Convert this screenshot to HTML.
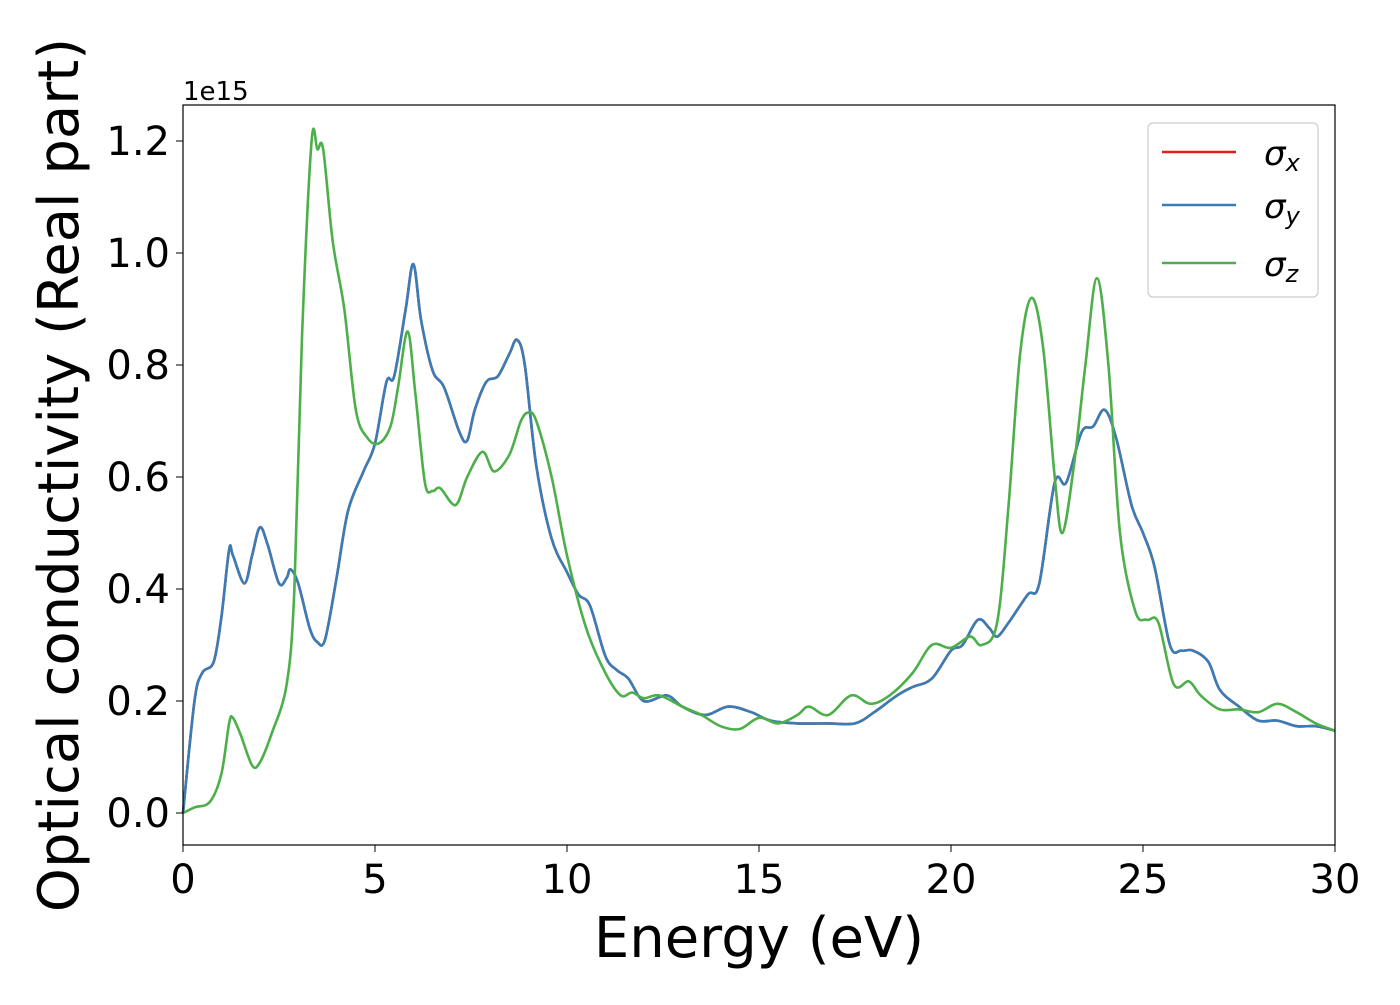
<!DOCTYPE html>
<html><head><meta charset="utf-8"><style>
html,body{margin:0;padding:0;background:#fff;}
svg text{font-family:"DejaVu Sans","Liberation Sans",sans-serif;fill:#000;}
</style></head><body>
<svg id="chart" width="1400" height="1000" xmlns="http://www.w3.org/2000/svg">
<g id="plot"></g>
<rect x="183" y="105" width="1152" height="740" fill="none" stroke="#000" stroke-width="1.2"/>
<g id="ticks"></g>
<text x="183" y="100" font-size="26">1e15</text>
<text x="759" y="957" font-size="56" text-anchor="middle">Energy (eV)</text>
<text transform="translate(78,475) rotate(-90)" font-size="56" text-anchor="middle">Optical conductivity (Real part)</text>
<g>
<rect x="1148" y="123" width="170" height="174" rx="5" fill="#fff" fill-opacity="0.8" stroke="#ccc" stroke-width="1.2"/>
<line x1="1162" y1="152" x2="1236" y2="152" stroke="#e41a1c" stroke-width="2.5"/>
<text x="1264" y="165" font-size="34" font-style="italic">σ<tspan font-size="24" dy="6">x</tspan></text>
<line x1="1162" y1="205" x2="1236" y2="205" stroke="#377eb8" stroke-width="2.5"/>
<text x="1264" y="218" font-size="34" font-style="italic">σ<tspan font-size="24" dy="6">y</tspan></text>
<line x1="1162" y1="263" x2="1236" y2="263" stroke="#4daf4a" stroke-width="2.5"/>
<text x="1264" y="276" font-size="34" font-style="italic">σ<tspan font-size="24" dy="6">z</tspan></text>
</g>
</svg>
<script>
const xyE=[0,0.3,0.5,0.8,1.0,1.2,1.3,1.6,1.8,2.0,2.2,2.5,2.7,2.8,3.0,3.3,3.5,3.7,4.0,4.3,4.7,5.0,5.3,5.5,5.8,6.0,6.2,6.5,6.8,7.2,7.4,7.6,7.9,8.2,8.5,8.7,8.9,9.2,9.6,10.0,10.3,10.6,11.0,11.3,11.6,12.0,12.6,13.0,13.6,14.2,14.8,15.3,16.0,16.8,17.5,18.0,18.6,19.0,19.5,20.0,20.3,20.7,21.0,21.2,21.5,22.0,22.3,22.7,23.0,23.4,23.7,24.0,24.3,24.7,25.0,25.3,25.7,26.0,26.3,26.7,27.0,27.5,28.0,28.5,29.0,29.5,30];
const xyV=[0,0.2,0.25,0.27,0.35,0.47,0.46,0.41,0.46,0.51,0.48,0.41,0.42,0.435,0.41,0.33,0.305,0.31,0.42,0.54,0.61,0.66,0.77,0.78,0.9,0.98,0.88,0.79,0.76,0.68,0.665,0.72,0.77,0.78,0.82,0.845,0.8,0.62,0.49,0.43,0.39,0.37,0.28,0.255,0.24,0.2,0.21,0.19,0.175,0.19,0.18,0.165,0.16,0.16,0.16,0.18,0.21,0.225,0.24,0.29,0.3,0.345,0.33,0.315,0.34,0.39,0.41,0.59,0.59,0.68,0.69,0.72,0.67,0.55,0.5,0.44,0.3,0.29,0.29,0.27,0.22,0.19,0.165,0.165,0.155,0.155,0.147];
const zE=[0,0.3,0.7,1.0,1.2,1.3,1.5,1.8,2.0,2.3,2.7,2.9,3.1,3.35,3.5,3.65,3.9,4.2,4.5,4.8,5.1,5.4,5.6,5.85,6.05,6.3,6.5,6.7,7.1,7.4,7.8,8.1,8.5,8.8,9.0,9.2,9.6,10.0,10.5,11.0,11.4,11.7,12.0,12.4,13.0,13.5,14.0,14.5,15.0,15.5,16.0,16.3,16.8,17.4,17.9,18.4,19.0,19.5,20.0,20.5,20.8,21.2,21.5,21.8,22.1,22.4,22.7,22.9,23.2,23.5,23.8,24.1,24.4,24.8,25.1,25.4,25.8,26.2,26.5,27.0,27.5,28.0,28.5,29.0,29.5,30];
const zV=[0,0.01,0.02,0.07,0.16,0.17,0.14,0.085,0.09,0.14,0.23,0.4,0.85,1.2,1.185,1.185,1.02,0.9,0.72,0.67,0.66,0.69,0.76,0.86,0.75,0.59,0.575,0.58,0.55,0.6,0.645,0.61,0.64,0.7,0.715,0.7,0.6,0.46,0.33,0.25,0.21,0.215,0.205,0.21,0.19,0.175,0.155,0.15,0.17,0.16,0.175,0.19,0.175,0.21,0.195,0.21,0.25,0.3,0.295,0.315,0.3,0.34,0.55,0.82,0.92,0.83,0.6,0.5,0.62,0.8,0.955,0.8,0.5,0.36,0.345,0.34,0.23,0.235,0.21,0.185,0.185,0.18,0.195,0.18,0.16,0.147];
const xTicks=[0,5,10,15,20,25,30];
const yTicks=[0,0.2,0.4,0.6,0.8,1.0,1.2];
const yTickLabels=["0.0","0.2","0.4","0.6","0.8","1.0","1.2"];
const X=e=>183+e*38.4;
const Y=v=>813-v*560;
const NS="http://www.w3.org/2000/svg";
function pathFor(es,vs){
  const p=es.map((e,i)=>[X(e),Y(vs[i])]);
  let d="M"+p[0][0]+","+p[0][1];
  for(let i=0;i<p.length-1;i++){
    const p0=p[Math.max(0,i-1)],p1=p[i],p2=p[i+1],p3=p[Math.min(p.length-1,i+2)];
    const c1=[p1[0]+(p2[0]-p0[0])/6,p1[1]+(p2[1]-p0[1])/6];
    const c2=[p2[0]-(p3[0]-p1[0])/6,p2[1]-(p3[1]-p1[1])/6];
    d+=" C"+c1[0].toFixed(1)+","+c1[1].toFixed(1)+" "+c2[0].toFixed(1)+","+c2[1].toFixed(1)+" "+p2[0].toFixed(1)+","+p2[1].toFixed(1);
  }
  return d;
}
const plot=document.getElementById("plot");
function addLine(es,vs,color,name){
  const el=document.createElementNS(NS,"path");
  el.setAttribute("d",pathFor(es,vs));
  el.setAttribute("fill","none");
  el.setAttribute("stroke",color);
  el.setAttribute("stroke-width","2.6");
  
  
  plot.appendChild(el);
}
addLine(xyE,xyV,"#e41a1c","sigma-x-line");
addLine(xyE,xyV,"#377eb8","sigma-y-line");
addLine(zE,zV,"#4daf4a","sigma-z-line");
const ticks=document.getElementById("ticks");
xTicks.forEach(t=>{
  const l=document.createElementNS(NS,"line");
  l.setAttribute("x1",X(t));l.setAttribute("x2",X(t));l.setAttribute("y1",845);l.setAttribute("y2",852);
  l.setAttribute("stroke","#000");
  
  
  ticks.appendChild(l);
  const tx=document.createElementNS(NS,"text");
  tx.setAttribute("x",X(t));tx.setAttribute("y",893);tx.setAttribute("font-size","40");tx.setAttribute("text-anchor","middle");
  tx.textContent=t;
  
  
  ticks.appendChild(tx);
});
yTicks.forEach((t,i)=>{
  const l=document.createElementNS(NS,"line");
  l.setAttribute("x1",176);l.setAttribute("x2",183);l.setAttribute("y1",Y(t));l.setAttribute("y2",Y(t));
  l.setAttribute("stroke","#000");
  
  
  ticks.appendChild(l);
  const tx=document.createElementNS(NS,"text");
  tx.setAttribute("x",170);tx.setAttribute("y",Y(t)+14);tx.setAttribute("font-size","40");tx.setAttribute("text-anchor","end");
  tx.textContent=yTickLabels[i];
  
  
  ticks.appendChild(tx);
});
</script>
</body></html>
